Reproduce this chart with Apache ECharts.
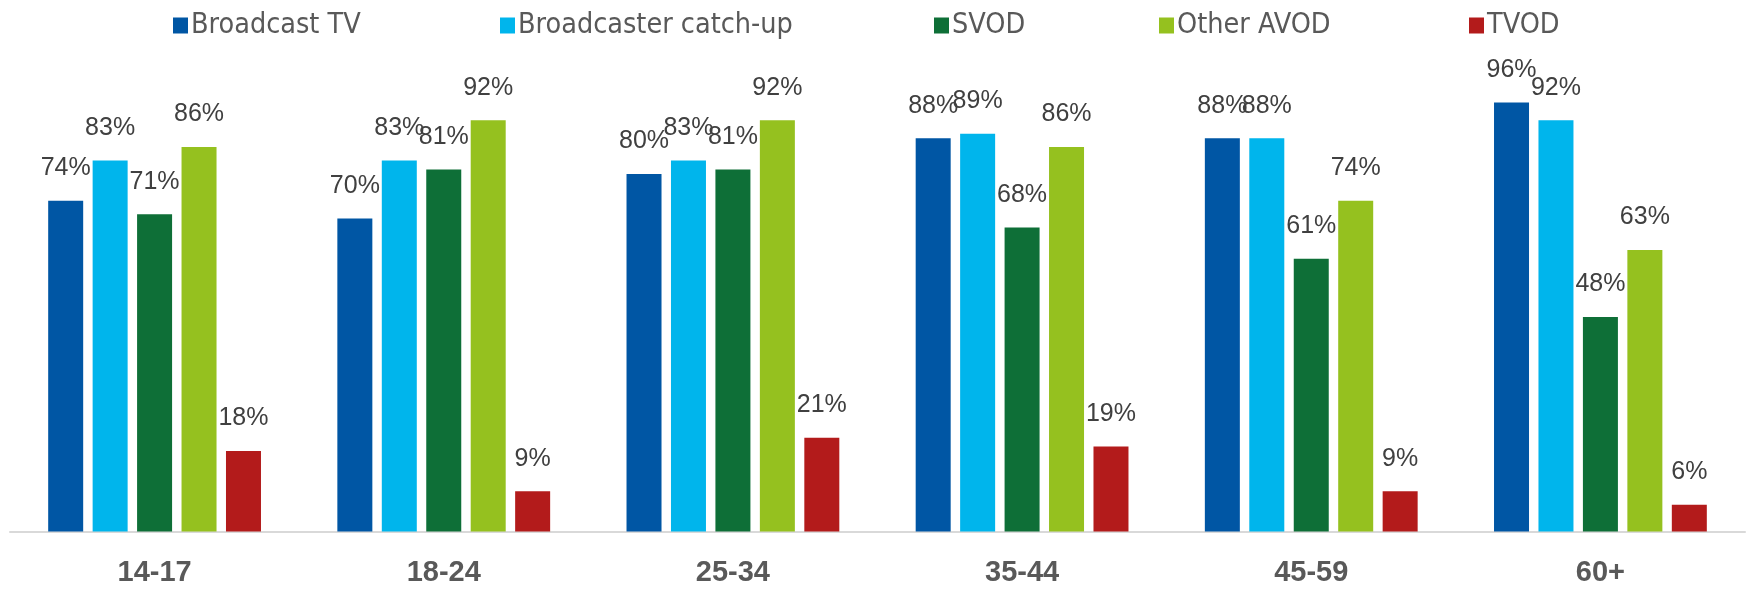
<!DOCTYPE html>
<html>
<head>
<meta charset="utf-8">
<script src="https://cdn.jsdelivr.net/npm/echarts@6/dist/echarts.min.js"></script>
<style>
  html, body { margin: 0; padding: 0; background: #ffffff; }
  #chart { width: 1750px; height: 590px; }
</style>
</head>
<body>
<div id="chart"></div>
<script>
// Age groups along the x axis
const ageGroups = ['14-17', '18-24', '25-34', '35-44', '45-59', '60+'];

// Share of each age group using each service (%)
const broadcastTV = [74, 70, 80, 88, 88, 96];
const broadcasterCatchUp = [83, 83, 83, 89, 88, 92];
const svod = [71, 81, 81, 68, 61, 48];
const otherAvod = [86, 92, 92, 86, 74, 63];
const tvod = [18, 9, 21, 19, 9, 6];

const seriesNames = ['Broadcast TV', 'Broadcaster catch-up', 'SVOD', 'Other AVOD', 'TVOD'];
const seriesValues = [broadcastTV, broadcasterCatchUp, svod, otherAvod, tvod];
const seriesColors = ['#0056a4', '#00b5ec', '#0e6f37', '#95c11f', '#b31b1b'];

// Horizontal start of each legend entry
const legendLefts = [168, 495, 929, 1154, 1464];

const chart = echarts.init(document.getElementById('chart'), null, { renderer: 'canvas' });

const legends = seriesNames.map((name, i) => ({
  data: [name],
  left: legendLefts[i],
  top: 6,
  orient: 'horizontal',
  icon: 'rect',
  itemWidth: 15,
  itemHeight: 16,
  itemGap: 6,
  selectedMode: false,
  textStyle: {
    fontFamily: '"DejaVu Sans Condensed", "DejaVu Sans", sans-serif',
    fontSize: 28.5,
    color: '#595959',
    padding: [0, 0, 0, -2]
  }
}));

const series = seriesNames.map((name, i) => ({
  name: name,
  type: 'bar',
  data: seriesValues[i],
  barWidth: 35,
  barGap: '27%',
  itemStyle: { color: seriesColors[i] },
  label: {
    show: true,
    position: 'top',
    distance: 20,
    formatter: p => p.value + '%',
    fontFamily: '"Liberation Sans", Arial, sans-serif',
    fontSize: 25,
    color: '#404040'
  },
  emphasis: { disabled: true }
}));

chart.setOption({
  animation: false,
  backgroundColor: '#ffffff',
  legend: legends,
  grid: { left: 10, right: 5, top: 84.5, bottom: 58.5, containLabel: false },
  xAxis: {
    type: 'category',
    data: ageGroups,
    axisLine: { show: true, lineStyle: { color: '#d9d9d9', width: 2 } },
    axisTick: { show: false },
    axisLabel: {
      margin: 27,
      fontFamily: '"Liberation Sans", Arial, sans-serif',
      fontWeight: 'bold',
      fontSize: 29,
      color: '#595959'
    }
  },
  yAxis: {
    type: 'value',
    min: 0,
    max: 100,
    show: false,
    splitLine: { show: false }
  },
  series: series
});
</script>
</body>
</html>
